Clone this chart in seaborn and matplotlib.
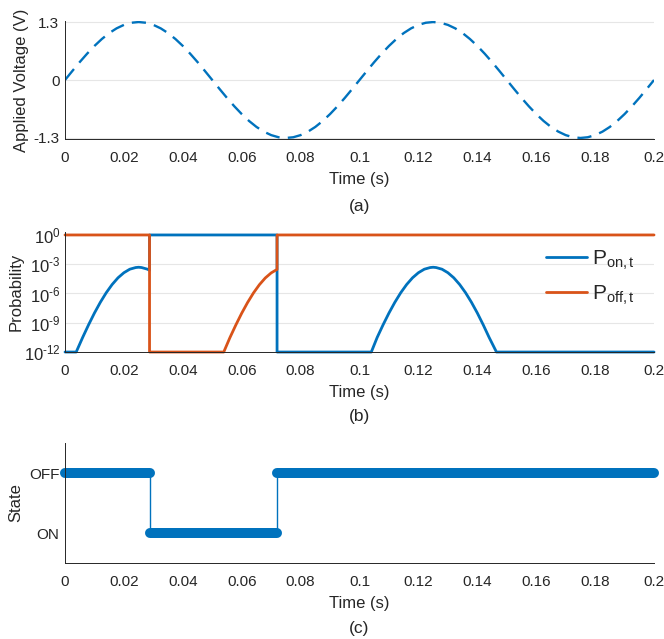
import numpy as np
import pandas as pd
import matplotlib
matplotlib.use("Agg")
import matplotlib.pyplot as plt
import seaborn as sns

# ---------------- data ----------------
# (a) applied voltage, sampled every 2.5 ms
volt = [0.000, 0.203, 0.402, 0.590, 0.764, 0.919, 1.052, 1.158, 1.236, 1.284,
        1.300, 1.284, 1.236, 1.158, 1.052, 0.919, 0.764, 0.590, 0.402, 0.203,
        0.000, -0.203, -0.402, -0.590, -0.764, -0.919, -1.052, -1.158, -1.236, -1.284,
        -1.300, -1.284, -1.236, -1.158, -1.052, -0.919, -0.764, -0.590, -0.402, -0.203,
        0.000, 0.203, 0.402, 0.590, 0.764, 0.919, 1.052, 1.158, 1.236, 1.284,
        1.300, 1.284, 1.236, 1.158, 1.052, 0.919, 0.764, 0.590, 0.402, 0.203,
        0.000, -0.203, -0.402, -0.590, -0.764, -0.919, -1.052, -1.158, -1.236, -1.284,
        -1.300, -1.284, -1.236, -1.158, -1.052, -0.919, -0.764, -0.590, -0.402, -0.203,
        0.000]
t_volt = np.round(np.arange(len(volt)) * 0.0025, 4)

# (b) probabilities (log10 values)
t_on = [0.0, 0.0038, 0.006, 0.008, 0.010, 0.012, 0.014, 0.016, 0.018, 0.020,
        0.022, 0.024, 0.025, 0.026, 0.028, 0.0287, 0.0287, 0.072, 0.072,
        0.104, 0.106, 0.108, 0.110, 0.112, 0.114, 0.116, 0.118, 0.120, 0.122,
        0.124, 0.125, 0.126, 0.128, 0.130, 0.132, 0.134, 0.136, 0.138, 0.140,
        0.142, 0.144, 0.1465, 0.200]
log_on = [-12, -12, -10.50, -9.21, -8.00, -6.90, -5.92, -5.08, -4.39, -3.87,
          -3.51, -3.34, -3.31, -3.34, -3.51, -3.62, 0, 0, -12,
          -12, -10.50, -9.21, -8.00, -6.90, -5.92, -5.08, -4.39, -3.87, -3.51,
          -3.34, -3.31, -3.34, -3.51, -3.87, -4.39, -5.08, -5.92, -6.90, -8.00,
          -9.21, -10.50, -12, -12]
t_off = [0.0, 0.0287, 0.0287, 0.0539, 0.056, 0.058, 0.060, 0.062, 0.064,
         0.066, 0.068, 0.070, 0.072, 0.072, 0.200]
log_off = [0, 0, -12, -12, -10.52, -9.23, -8.02, -6.92, -5.94,
           -5.10, -4.41, -3.89, -3.53, 0, 0]

# (c) state (1 = OFF, 0 = ON)
t_state = [0.0, 0.0287, 0.0287, 0.072, 0.072, 0.200]
state = [1, 1, 0, 0, 1, 1]

xticks = [0, 0.02, 0.04, 0.06, 0.08, 0.1, 0.12, 0.14, 0.16, 0.18, 0.2]
xticklabels = ["0", "0.02", "0.04", "0.06", "0.08", "0.1", "0.12", "0.14", "0.16", "0.18", "0.2"]
prob_ticks = [1e-12, 1e-9, 1e-6, 1e-3, 1e0]
prob_exps = ["-12", "-9", "-6", "-3", "0"]

# ---------------- style ----------------
sns.set_theme(style="white")
plt.rcParams['font.family'] = ['Liberation Sans', 'DejaVu Sans']
plt.rcParams['mathtext.fontset'] = 'custom'
plt.rcParams['mathtext.rm'] = 'Liberation Sans'
plt.rcParams['mathtext.it'] = 'Liberation Sans'
plt.rcParams['axes.unicode_minus'] = False

BLUE = "#0072BD"
ORANGE = "#D95319"
DARK = "#262626"
GRID = "#e6e6e6"

fig = plt.figure(figsize=(6.64, 6.39), dpi=100)
L, W = 0.0979, 0.8871
ax_a = fig.add_axes([L, 0.782, W, 0.1856])
ax_b = fig.add_axes([L, 0.4491, W, 0.1878])
ax_c = fig.add_axes([L, 0.1189, W, 0.1878])


def style_axes(ax):
    for s in ("top", "right"):
        ax.spines[s].set_visible(False)
    for s in ("left", "bottom"):
        ax.spines[s].set_color(DARK)
        ax.spines[s].set_linewidth(0.7)
    ax.set_xlim(0, 0.2)
    ax.set_xticks(xticks)
    ax.set_xticklabels(xticklabels)
    ax.tick_params(axis="both", which="major", direction="in", length=4.3, width=0.6,
                   color=DARK, labelcolor=DARK, labelsize=11)
    ax.tick_params(axis="x", pad=8.5)
    ax.tick_params(axis="y", pad=4)
    ax.set_xlabel("Time (s)", fontsize=12, color=DARK, labelpad=5)


# (a)
df_a = pd.DataFrame({"t": t_volt, "v": volt})
sns.lineplot(data=df_a, x="t", y="v", ax=ax_a, color=BLUE, lw=1.7,
             estimator=None, sort=False)
ax_a.lines[0].set_linestyle((0, (6, 3.5)))
style_axes(ax_a)
ax_a.set_ylim(-1.33, 1.33)
ax_a.set_yticks([-1.3, 0, 1.3])
ax_a.set_yticklabels(["-1.3", "0", "1.3"])
ax_a.yaxis.grid(True, color=GRID, lw=0.8)
ax_a.set_axisbelow(True)
ax_a.set_ylabel("Applied Voltage (V)", fontsize=12, color=DARK, labelpad=3)

# (b)
df_on = pd.DataFrame({"t": t_on, "p": 10.0 ** np.array(log_on, dtype=float)})
df_off = pd.DataFrame({"t": t_off, "p": 10.0 ** np.array(log_off, dtype=float)})
sns.lineplot(data=df_on, x="t", y="p", ax=ax_b, color=BLUE, lw=2.0,
             estimator=None, sort=False, label=r"$\mathregular{P_{on,t}}$")
sns.lineplot(data=df_off, x="t", y="p", ax=ax_b, color=ORANGE, lw=2.0,
             estimator=None, sort=False, label=r"$\mathregular{P_{off,t}}$")
for ln in ax_b.lines:
    ln.set_clip_on(False)
ax_b.set_yscale("log")
style_axes(ax_b)
ax_b.set_ylim(1e-12, 2)
ax_b.set_yticks(prob_ticks)
ax_b.set_yticklabels([r"$\mathregular{10^{\text{%s}}}$" % e for e in prob_exps])
ax_b.set_yticks([10.0 ** k for k in range(-12, 1)], minor=True)
ax_b.yaxis.set_minor_formatter(matplotlib.ticker.NullFormatter())
ax_b.tick_params(axis="y", which="major", labelsize=12, pad=3)
ax_b.tick_params(axis="y", which="minor", direction="in", length=3, width=0.6, color=DARK)
ax_b.yaxis.grid(True, which="major", color=GRID, lw=0.8)
ax_b.set_axisbelow(True)
ax_b.set_ylabel("Probability", fontsize=12, color=DARK, labelpad=0)
leg = ax_b.legend(loc="upper right", bbox_to_anchor=(0.981, 0.93), frameon=False,
                  fontsize=15, handlelength=2.0, handletextpad=0.2, labelspacing=0.55,
                  borderaxespad=0.0)

# (c)
df_c = pd.DataFrame({"t": t_state, "s": state})
sns.lineplot(data=df_c, x="t", y="s", ax=ax_c, color=BLUE, lw=1.0,
             estimator=None, sort=False)
# thick level segments
ts = np.array(t_state)
ss = np.array(state)
for i in range(len(ts) - 1):
    if ss[i] == ss[i + 1] and ts[i + 1] > ts[i]:
        ax_c.plot([ts[i], ts[i + 1]], [ss[i], ss[i + 1]], color=BLUE, lw=7.2,
                  solid_capstyle="round", clip_on=False)
style_axes(ax_c)
ax_c.set_ylim(-0.5, 1.5)
ax_c.set_yticks([0, 1])
ax_c.set_yticklabels(["ON", "OFF"])
ax_c.set_ylabel("State", fontsize=12, color=DARK, labelpad=4)

# panel captions
fig.text(0.5415, 1 - 206 / 639, "(a)", ha="center", va="center", fontsize=12.5, color=DARK)
fig.text(0.5415, 1 - 416 / 639, "(b)", ha="center", va="center", fontsize=12.5, color=DARK)
fig.text(0.5415, 1 - 629 / 639, "(c)", ha="center", va="center", fontsize=12.5, color=DARK)

fig.savefig("out.png", dpi=100)
